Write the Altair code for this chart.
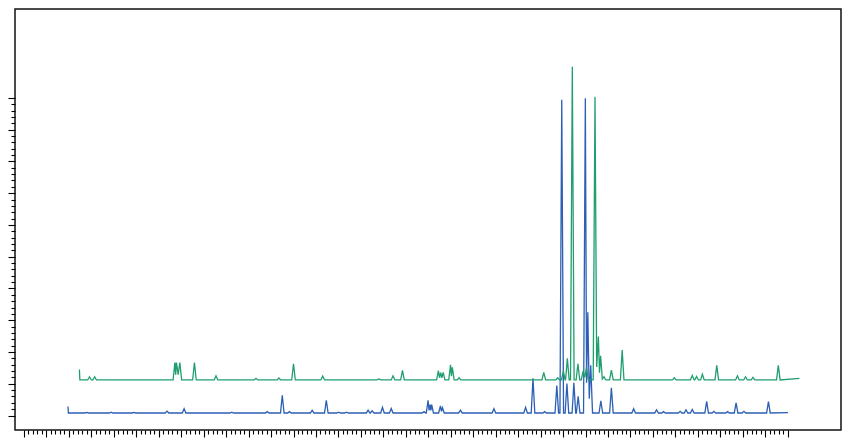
import altair as alt
import pandas as pd

# ---- data (retention time in min, detector signal) ----
blue_start, blue_start_val, blue_end, blue_end_val, blue_base = 1.96, 2.83, 34.01, 0.91, 0.8
blue_t = [2.79, 3.88, 4.89, 6.37, 7.13, 9.25, 10.83, 11.50, 11.82, 12.83, 13.46, 14.01, 14.36,
          15.32, 15.50, 15.96, 16.35, 17.81, 17.99, 18.08, 18.15, 18.54, 18.63, 19.43, 20.92,
          22.33, 22.66, 23.18, 23.72, 23.94, 24.17, 24.48, 24.67, 24.99, 25.10, 25.23, 25.68,
          26.15, 27.14, 28.16, 28.47, 29.21, 29.47, 29.75, 30.39, 30.71, 31.32, 31.70, 32.05, 33.14]
blue_v = [1.0, 1.06, 1.0, 1.37, 2.13, 1.06, 1.22, 6.38, 1.22, 1.61, 4.80, 1.06, 1.06,
          1.67, 1.52, 2.58, 2.19, 1.22, 4.80, 3.43, 3.43, 3.04, 2.43, 1.67, 2.13,
          2.58, 11.76, 1.22, 9.42, 99.4, 10.03, 10.33, 6.08, 99.9, 32.5, 15.8, 4.65,
          8.72, 2.13, 1.82, 1.22, 1.31, 1.82, 1.91, 4.47, 1.31, 1.22, 3.95, 1.31, 4.35]

green_start, green_start_val, green_end, green_end_val, green_base = 2.47, 14.5, 34.52, 11.7, 11.2
green_t = [2.92, 3.15, 6.72, 6.79, 6.94, 7.59, 8.55, 10.33, 11.35, 12.00, 13.30, 15.80, 16.43,
           16.85, 18.45, 18.55, 18.66, 18.99, 19.07, 19.37, 23.14, 23.76, 24.01, 24.19, 24.41,
           24.66, 24.89, 25.04, 25.42, 25.57, 25.67, 25.82, 26.15, 26.63, 28.95, 29.75, 29.94,
           30.20, 30.84, 31.76, 32.12, 32.45, 33.58]
green_v = [12.2, 12.2, 16.7, 16.7, 16.7, 16.7, 12.5, 11.7, 11.8, 16.3, 12.4, 11.5, 12.5,
           14.2, 14.1, 13.5, 13.6, 16.0, 15.2, 11.9, 13.6, 11.9, 14.0, 18.0, 109.8,
           16.3, 14.0, 15.2, 100.4, 24.9, 18.8, 12.2, 14.3, 20.6, 11.9, 12.6, 12.3,
           13.0, 15.8, 12.5, 12.2, 12.0, 15.8]

x_ticks = [round(i * 0.2, 1) for i in range(171)]
y_ticks = list(range(0, 101, 2))

HALF = 0.08


def build(name, start, start_val, end, end_val, base, ts, vs):
    rows = [(start, start_val), (start + 0.02, base)]
    for i, (t, v) in enumerate(zip(ts, vs)):
        if i == 0 or t - ts[i - 1] > 2 * HALF:
            rows.append((t - HALF, base))
        rows.append((t, v))
        if i == len(ts) - 1 or ts[i + 1] - t > 2 * HALF:
            rows.append((t + HALF, base))
        else:
            mid = (t + ts[i + 1]) / 2
            rows.append((mid, base + 0.3 * (min(v, vs[i + 1]) - base)))
    rows.append((end, end_val))
    return pd.DataFrame({"t": [r[0] for r in rows], "v": [r[1] for r in rows], "series": name})


df = pd.concat([
    build("A", blue_start, blue_start_val, blue_end, blue_end_val, blue_base, blue_t, blue_v),
    build("B", green_start, green_start_val, green_end, green_end_val, green_base, green_t, green_v),
])

x_axis = alt.Axis(values=x_ticks, labels=False, title=None, domain=False, grid=False,
                  tickColor="#000000", tickWidth=1.1,
                  tickSize={"condition": {"test": "datum.value % 1 === 0", "value": 7}, "value": 4})
y_axis = alt.Axis(values=y_ticks, labels=False, title=None, domain=False, grid=False,
                  tickColor="#000000", tickWidth=1.1,
                  tickSize={"condition": {"test": "datum.value % 10 === 0", "value": 7}, "value": 4})

chart = alt.Chart(df).mark_line(strokeWidth=1.3, clip=True).encode(
    x=alt.X("t:Q", scale=alt.Scale(domain=[-0.397, 36.37], nice=False, zero=False), axis=x_axis),
    y=alt.Y("v:Q", scale=alt.Scale(domain=[-4.56, 128.0], nice=False, zero=False), axis=y_axis),
    color=alt.Color("series:N", scale=alt.Scale(domain=["A", "B"], range=["#2c5fb5", "#1f9e6e"]),
                    legend=None),
    detail="series:N",
).properties(
    width=826, height=421,
    autosize=alt.AutoSizeParams(type="none"),
    padding={"left": 7, "top": 1, "right": 1, "bottom": 8},
).configure_view(stroke="#111111", strokeWidth=1.5)

chart.save("out.html", embed_options={"renderer": "svg", "actions": False})
